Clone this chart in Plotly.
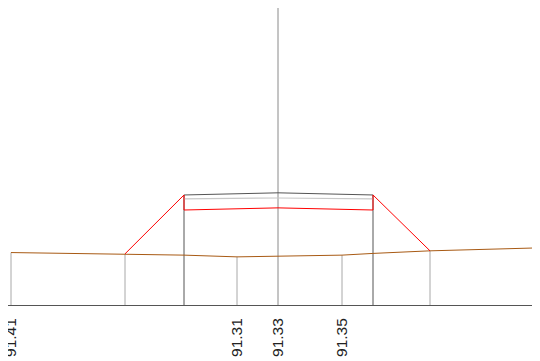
import plotly.graph_objects as go

# Offsets from centreline (m) and ground elevations (m)
offsets = [-13.35, -7.65, -4.70, -2.05, 0.00, 3.20, 4.75, 7.60, 13.10]
ground = [91.41, 91.38, 91.35, 91.31, 91.33, 91.35, 91.39, 91.45, 91.52]
tick_labels = ["91.41", "", "", "91.31", "91.33", "91.35", "", "", "91.52"]

# design (red) outline
design_x = [-7.65, -4.70, -4.70, 0.00, 4.75, 4.75, 7.60]
design_z = [91.38, 92.75, 92.40, 92.45, 92.40, 92.75, 91.45]
# pavement top (dark) and layer (light)
top_x = [-4.70, 0.00, 4.75]
top_z = [92.75, 92.80, 92.75]
layer_z = [92.66, 92.68, 92.66]

datum = 90.19
z_top = 97.10
x_min, x_max = -13.50, 13.50

fig = go.Figure()

# light verticals from datum to ground
lv_x, lv_y = [], []
for x, z in zip(offsets, ground):
    if x in (-4.70, 0.00, 4.75):
        continue
    lv_x += [x, x, None]
    lv_y += [datum, z, None]
fig.add_trace(go.Scatter(x=lv_x, y=lv_y, mode="lines",
                         line=dict(color="#a8a8a8", width=1), hoverinfo="skip"))

# dark verticals at pavement edges
dv_x, dv_y = [], []
for x, z in zip(top_x[::2], top_z[::2]):
    dv_x += [x, x, None]
    dv_y += [datum, z, None]
fig.add_trace(go.Scatter(x=dv_x, y=dv_y, mode="lines",
                         line=dict(color="#555555", width=1), hoverinfo="skip"))

# centreline
fig.add_trace(go.Scatter(x=[0, 0], y=[datum, z_top], mode="lines",
                         line=dict(color="#8a8a8a", width=1), hoverinfo="skip"))

# ground line
fig.add_trace(go.Scatter(x=offsets, y=ground, mode="lines",
                         line=dict(color="#a85a14", width=1), hoverinfo="skip"))

# layer (light grey)
fig.add_trace(go.Scatter(x=top_x, y=layer_z, mode="lines",
                         line=dict(color="#c8c8c8", width=1.2), hoverinfo="skip"))
# top (dark)
fig.add_trace(go.Scatter(x=top_x, y=top_z, mode="lines",
                         line=dict(color="#555555", width=1), hoverinfo="skip"))
# design (red)
fig.add_trace(go.Scatter(x=design_x, y=design_z, mode="lines",
                         line=dict(color="#ff0000", width=1), hoverinfo="skip"))

tv = [x for x, t in zip(offsets, tick_labels) if t]
tt = [t for t in tick_labels if t]

fig.update_layout(
    width=540, height=361,
    margin=dict(l=0, r=0, t=0, b=64),
    paper_bgcolor="white", plot_bgcolor="white",
    showlegend=False,
    font=dict(family="Liberation Sans, Arial, sans-serif", color="#222222"),
    xaxis=dict(range=[x_min, x_max], showgrid=False, zeroline=False,
               showline=True, linecolor="#555555", linewidth=1,
               tickmode="array", tickvals=tv, ticktext=tt, tickangle=-90,
               ticks="", ticklen=0, ticklabelstandoff=6,
               tickfont=dict(size=15.5, color="#222222"),
               ticklabeloverflow="allow", automargin=False),
    yaxis=dict(range=[datum, z_top], showgrid=False, zeroline=False,
               showline=False, showticklabels=False, automargin=False),
)

fig.write_html("out.html")
